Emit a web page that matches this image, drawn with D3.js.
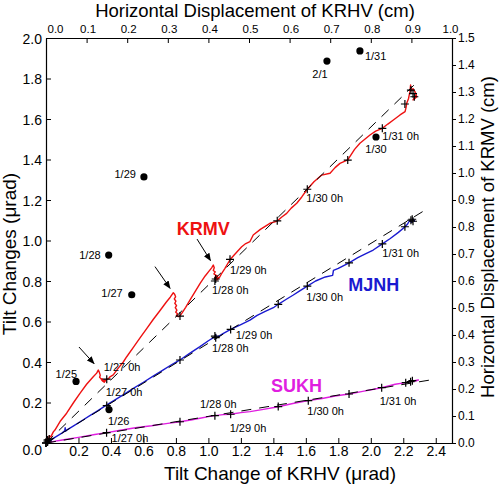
<!DOCTYPE html>
<html><head><meta charset="utf-8">
<script src="https://cdn.jsdelivr.net/npm/d3@7/dist/d3.min.js"></script>
<style>
html,body{margin:0;padding:0;background:#fff;}
svg{display:block;font-family:"Liberation Sans",Arial,Helvetica,sans-serif;}
</style></head>
<body><svg id="c" width="499" height="485"></svg>
<script>
// ---------- DATA ----------
const krmvX = [0,0.005,0.015,0.02,0.03,0.045,0.055,0.09,0.127,0.17,0.209,0.25,0.291,0.312,0.322,0.328,0.334,0.33,0.338,0.343,0.35,0.345,0.356,0.362,0.358,0.368,0.374,0.385,0.394,0.414,0.445,0.476,0.497,0.54,0.58,0.62,0.66,0.70,0.74,0.765,0.784,0.792,0.798,0.79,0.80,0.793,0.804,0.796,0.806,0.799,0.81,0.803,0.815,0.825,0.84,0.86,0.89,0.92,0.95,0.98,1.005,1.02,1.030,1.036,1.03,1.042,1.034,1.048,1.04,1.055,1.045,1.06,1.052,1.07,1.08,1.10,1.133,1.16,1.205,1.23,1.256,1.276,1.32,1.379,1.424,1.45,1.482,1.51,1.544,1.575,1.609,1.65,1.698,1.749,1.78,1.810,1.858,1.90,1.933,1.995,2.03,2.071,2.105,2.139,2.18,2.211,2.218,2.221,2.232,2.241,2.245,2.25,2.26,2.266,2.275,2.283,2.27,2.28,2.26,2.275];
const krmvY = [0,0.02,0.01,0.035,0.03,0.055,0.064,0.11,0.147,0.2,0.245,0.29,0.327,0.345,0.36,0.35,0.335,0.325,0.318,0.311,0.305,0.318,0.302,0.312,0.3,0.31,0.315,0.318,0.327,0.336,0.37,0.40,0.426,0.475,0.52,0.565,0.61,0.652,0.695,0.72,0.742,0.735,0.722,0.712,0.70,0.69,0.678,0.668,0.656,0.646,0.638,0.63,0.624,0.628,0.645,0.67,0.71,0.75,0.79,0.825,0.85,0.865,0.879,0.865,0.852,0.845,0.835,0.828,0.818,0.826,0.81,0.818,0.805,0.82,0.835,0.86,0.905,0.93,0.969,0.985,0.995,1.027,1.055,1.085,1.096,1.115,1.134,1.16,1.184,1.215,1.253,1.29,1.323,1.332,1.36,1.381,1.398,1.45,1.48,1.521,1.54,1.554,1.575,1.595,1.62,1.636,1.66,1.678,1.70,1.735,1.768,1.74,1.75,1.743,1.73,1.71,1.70,1.72,1.694,1.715];

const mjnhX = [0,0.01,0.02,0.04,0.07,0.1,0.115,0.118,0.121,0.127,0.17,0.22,0.27,0.32,0.374,0.42,0.48,0.538,0.60,0.66,0.72,0.78,0.825,0.88,0.948,1.0,1.041,1.045,1.05,1.09,1.137,1.2,1.256,1.30,1.35,1.40,1.430,1.48,1.523,1.56,1.609,1.66,1.72,1.765,1.77,1.80,1.866,1.92,1.97,2.015,2.071,2.12,2.17,2.211,2.225,2.24,2.25,2.26,2.27,2.265];
const mjnhY = [0,0.01,0.005,0.02,0.035,0.05,0.06,0.075,0.058,0.064,0.085,0.11,0.135,0.16,0.188,0.21,0.24,0.270,0.30,0.33,0.36,0.39,0.410,0.44,0.476,0.505,0.525,0.535,0.52,0.54,0.561,0.585,0.607,0.63,0.65,0.668,0.685,0.71,0.731,0.75,0.775,0.80,0.82,0.828,0.852,0.862,0.890,0.915,0.935,0.953,0.983,1.01,1.04,1.068,1.08,1.10,1.09,1.105,1.095,1.10];

const sukhX = [0,0.01,0.05,0.1,0.2,0.3,0.374,0.45,0.55,0.65,0.75,0.825,0.9,0.948,1.0,1.041,1.09,1.137,1.2,1.256,1.33,1.430,1.52,1.615,1.7,1.78,1.866,1.95,2.067,2.15,2.215,2.25,2.293,2.27,2.26];
const sukhY = [0,0.003,0.008,0.015,0.028,0.042,0.051,0.062,0.075,0.085,0.097,0.105,0.115,0.122,0.13,0.135,0.14,0.142,0.150,0.155,0.165,0.179,0.195,0.209,0.22,0.232,0.242,0.255,0.273,0.29,0.298,0.305,0.311,0.305,0.31];

// "+" markers (daily / 6-hourly)
const krmvMarkX = [0,0.01,0.02,0.374,0.825,1.04,1.045,1.133,1.424,1.609,1.858,2.071,2.21,2.247,2.268,2.26];
const krmvMarkY = [0,0.015,0.02,0.315,0.627,0.80,0.81,0.907,1.097,1.253,1.397,1.554,1.674,1.743,1.71,1.725];
const mjnhMarkX = [0,0.01,0.374,0.825,1.04,1.045,1.137,1.430,1.609,1.866,2.071,2.21,2.247,2.26,2.255];
const mjnhMarkY = [0,0.01,0.185,0.41,0.528,0.52,0.561,0.685,0.775,0.89,0.983,1.068,1.10,1.095,1.105];
const sukhMarkX = [0,0.01,0.373,0.825,1.04,1.137,1.43,1.615,1.866,2.067,2.215,2.245,2.256];
const sukhMarkY = [0,0.005,0.051,0.105,0.135,0.142,0.18,0.209,0.242,0.273,0.298,0.303,0.308];

// labelled day markers
const dayLabels = ["1/27 0h","1/28 0h","1/29 0h","1/30 0h","1/31 0h"];
const krmvDayX = [0.374,1.04,1.133,1.609,2.071];
const krmvDayY = [0.315,0.80,0.907,1.253,1.554];
const mjnhDayX = [0.374,1.04,1.137,1.609,2.071];
const mjnhDayY = [0.185,0.528,0.561,0.775,0.983];
const sukhDayX = [0.373,1.04,1.137,1.615,2.067];
const sukhDayY = [0.051,0.135,0.142,0.209,0.273];

// linear trends (dashed)
const trendSlopes = [0.78, 0.4927, 0.1315];
const trendEndX = [2.265, 2.334, 2.395];

// black dots (daily)
const dotLabels = ["1/25","1/26","1/27","1/28","1/29","1/30","1/31","2/1"];
const dotX = [0.185,0.388,0.528,0.386,0.603,2.032,1.933,1.730];
const dotY = [0.304,0.165,0.732,0.928,1.314,1.511,1.936,1.886];

// arrows (tail x, tail y, head x, head y)
const arrows = [[0.203,0.474,0.296,0.392],[0.671,0.871,0.764,0.764],[0.930,1.007,1.013,0.901]];

const seriesNames = ["KRMV","MJNH","SUKH"];
const leftTicks = [0,0.2,0.4,0.6,0.8,1.0,1.2,1.4,1.6,1.8,2.0];
const bottomTicks = [0.2,0.4,0.6,0.8,1.0,1.2,1.4,1.6,1.8,2.0,2.2,2.4];
const topTicks = [0,0.1,0.2,0.3,0.4,0.5,0.6,0.7,0.8,0.9,1.0];
const rightTicks = [0,0.1,0.2,0.3,0.4,0.5,0.6,0.7,0.8,0.9,1.0,1.1,1.2,1.3,1.4,1.5];

// ---------- LAYOUT / STYLE ----------
const L=46,R=452,T=38,B=443;
const colors = {KRMV:"#ee1111", MJNH:"#1a1ad0", SUKH:"#e01ee0"};
const svg = d3.select("#c");
const x = d3.scaleLinear().domain([0,2.5]).range([L,R]);
const y = d3.scaleLinear().domain([0,2.0]).range([B,T]);
const xTop = d3.scaleLinear().domain([0,1.0]).range([L,R]);
const yRight = d3.scaleLinear().domain([0,1.5]).range([B,T]);
const fmt = d3.format(".1f");

// axes
const gB = svg.append("g").attr("transform",`translate(0,${B})`)
  .call(d3.axisBottom(x).tickValues(bottomTicks).tickFormat(fmt).tickSizeInner(-5).tickSizeOuter(0).tickPadding(3));
gB.selectAll("text").attr("font-size",14);
const gL = svg.append("g").attr("transform",`translate(${L},0)`)
  .call(d3.axisLeft(y).tickValues(leftTicks).tickFormat(fmt).tickSizeInner(-5).tickSizeOuter(0).tickPadding(4));
gL.selectAll("text").attr("font-size",14).attr("dy",(d)=> d===0 ? "0.85em" : "0.36em");
const gT = svg.append("g").attr("transform",`translate(0,${T})`)
  .call(d3.axisTop(xTop).tickValues(topTicks).tickFormat(fmt).tickSizeInner(-5).tickSizeOuter(0).tickPadding(5));
gT.selectAll("text").attr("font-size",11.5).attr("text-anchor",(d)=> d===0 ? "start" : "middle")
  .attr("dx",(d)=> d===0 ? 1 : (d===1 ? -2 : 1));
const gR = svg.append("g").attr("transform",`translate(${R},0)`)
  .call(d3.axisRight(yRight).tickValues(rightTicks).tickFormat(fmt).tickSizeInner(4).tickSizeOuter(0).tickPadding(2));
gR.selectAll("text").attr("font-size",12);
svg.selectAll(".domain").attr("stroke","#000").attr("stroke-width",1.2);
svg.selectAll(".tick line").attr("stroke","#000");
svg.selectAll(".tick text").attr("fill","#000").attr("font-family","'Liberation Sans',Arial,sans-serif");

// titles
svg.append("text").attr("x",255).attr("y",17).attr("text-anchor","middle").attr("font-size",18.5)
  .text("Horizontal Displacement of KRHV (cm)");
svg.append("text").attr("x",280).attr("y",480).attr("text-anchor","middle").attr("font-size",19)
  .text("Tilt Change of KRHV (\u03bcrad)");
svg.append("text").attr("transform","translate(16,254) rotate(-90)").attr("text-anchor","middle").attr("font-size",19)
  .text("Tilt Changes (\u03bcrad)");
svg.append("text").attr("transform","translate(494,237) rotate(-90)").attr("text-anchor","middle").attr("font-size",18.5)
  .text("Horizontal Displacement of KRMV (cm)");

// series lines
const line = d3.line().x(d=>x(d[0])).y(d=>y(d[1]));
const zip = (a,b)=>a.map((v,i)=>[v,b[i]]);
const series = [
  {name:"KRMV", pts:zip(krmvX,krmvY), marks:zip(krmvMarkX,krmvMarkY), days:zip(krmvDayX,krmvDayY)},
  {name:"MJNH", pts:zip(mjnhX,mjnhY), marks:zip(mjnhMarkX,mjnhMarkY), days:zip(mjnhDayX,mjnhDayY)},
  {name:"SUKH", pts:zip(sukhX,sukhY), marks:zip(sukhMarkX,sukhMarkY), days:zip(sukhDayX,sukhDayY)}
];
series.forEach(s=>{
  svg.append("path").datum(s.pts).attr("d",line).attr("fill","none")
    .attr("stroke",colors[s.name]).attr("stroke-width",1.4).attr("stroke-linejoin","round");
});
// trend lines
trendSlopes.forEach((m,i)=>{
  svg.append("path").datum([[0,0],[trendEndX[i],m*trendEndX[i]]]).attr("d",line)
    .attr("stroke","#000").attr("stroke-width",1).attr("stroke-dasharray","10,8").attr("fill","none");
});
// markers
series.forEach(s=>{
  svg.append("g").selectAll("path").data(s.marks).join("path")
    .attr("transform",d=>`translate(${x(d[0])},${y(d[1])})`)
    .attr("d","M-4,0H4M0,-4V4").attr("stroke","#000").attr("stroke-width",1.2);
});
// day labels (layout offsets in px)
const dayOffsets = {
  KRMV:[[-3,-12],[-3,9],[0,11],[-1,9],[0,8]],
  MJNH:[[-1,-13],[-3,12],[5,6],[-1,11],[0,9]],
  SUKH:[[5,5],[-15,-12],[-1,14],[-1,10],[-2,13]]
};
series.forEach(s=>{
  svg.append("g").selectAll("text").data(s.days).join("text")
    .attr("x",(d,i)=>x(d[0])+dayOffsets[s.name][i][0])
    .attr("y",(d,i)=>y(d[1])+dayOffsets[s.name][i][1])
    .attr("dy","0.36em").attr("font-size",11).attr("fill","#000")
    .text((d,i)=>dayLabels[i]);
});
// dots
const dotLayout = [["end",1,-7],["start",-1,11],["end",-9,-2],["end",-8,0],["end",-8,-2.5],["middle",0,12],["start",5,5],["middle",-7,13]];
svg.append("g").selectAll("circle").data(dotX).join("circle")
  .attr("cx",(d)=>x(d)).attr("cy",(d,i)=>y(dotY[i])).attr("r",3.6).attr("fill","#000");
svg.append("g").selectAll("text").data(dotLabels).join("text")
  .attr("x",(d,i)=>x(dotX[i])+dotLayout[i][1]).attr("y",(d,i)=>y(dotY[i])+dotLayout[i][2])
  .attr("dy","0.36em").attr("text-anchor",(d,i)=>dotLayout[i][0]).attr("font-size",11).text(d=>d);

// arrows
svg.append("defs").append("marker").attr("id","ah").attr("viewBox","0 0 10 10").attr("refX",9).attr("refY",5)
  .attr("markerWidth",8).attr("markerHeight",8).attr("markerUnits","userSpaceOnUse").attr("orient","auto")
  .append("path").attr("d","M0,1L10,5L0,9Z").attr("fill","#000");
svg.append("g").selectAll("line").data(arrows).join("line")
  .attr("x1",d=>x(d[0])).attr("y1",d=>y(d[1])).attr("x2",d=>x(d[2])).attr("y2",d=>y(d[3]))
  .attr("stroke","#000").attr("stroke-width",1).attr("marker-end","url(#ah)");

// series name labels
const nameAt = {KRMV:[0.805,1.027], MJNH:[1.861,0.752], SUKH:[1.385,0.254]};
seriesNames.forEach(n=>{
  svg.append("text").attr("x",x(nameAt[n][0])).attr("y",y(nameAt[n][1]))
    .attr("font-size",18).attr("font-weight","bold").attr("fill",colors[n]).text(n);
});
</script></body></html>
